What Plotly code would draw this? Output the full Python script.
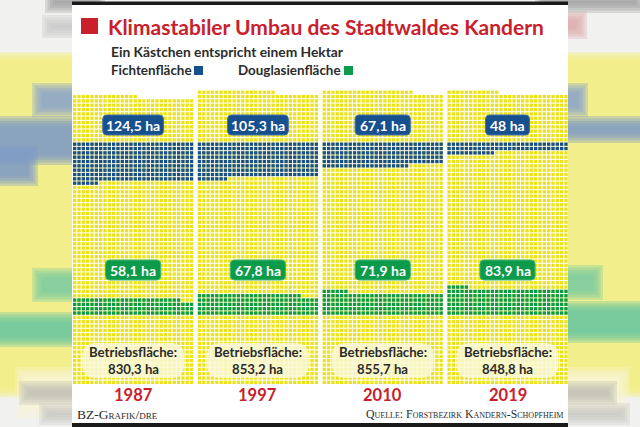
import plotly.graph_objects as go

# ---------------- data ----------------
years = ["1987", "1997", "2010", "2019"]
fichte_ha = [124.5, 105.3, 67.1, 48.0]
douglasie_ha = [58.1, 67.8, 71.9, 83.9]
betrieb_ha = [830.3, 853.2, 855.7, 848.8]
# number of squares drawn in each panel (as counted in the graphic)
total_cells = [1863, 1894, 1897, 1888]
fichte_cells = [258, 231, 160, 67]
douglasie_cells = [109, 136, 146, 173]

title = "Klimastabiler Umbau des Stadtwaldes Kandern"
subtitle = "Ein Kästchen entspricht einem Hektar"
legend_f = "Fichtenfläche"
legend_d = "Douglasienfläche"
credit = "BZ-Grafik/dre"
source = "Quelle: Forstbezirk Kandern-Schopfheim"

# ---------------- style / layout ----------------
W, H = 640, 427
COLS = 28
P = 4.33            # cell pitch (px)
S = 3.3             # square size
X0 = 72.5
STRIDE = 124.8
Y0 = 384.5          # grid bottom
BLUE_TOP_ROW = 55
GREEN_BOTTOM_ROW = 16

YELLOW = "#ECE21C"
BLUE = "#17508F"
GREEN = "#0C9B4A"
RED = "#C9202B"
TXT = "#2b2b2b"
FONT = "Lato, Roboto, sans-serif"
SERIF = "Liberation Serif, DejaVu Serif, serif"


def fmt(v):
    if float(v).is_integer():
        return f"{int(v)} ha"
    return f"{v:.1f}".replace(".", ",") + " ha"


def cxy(panel, row, col):
    return X0 + panel * STRIDE + (col + 0.5) * P, Y0 - (row + 0.5) * P


def rrect(x0, y0, x1, y1, r):
    return (f"M{x0+r},{y0} L{x1-r},{y0} Q{x1},{y0} {x1},{y0+r} L{x1},{y1-r} "
            f"Q{x1},{y1} {x1-r},{y1} L{x0+r},{y1} Q{x0},{y1} {x0},{y1-r} "
            f"L{x0},{y0+r} Q{x0},{y0} {x0+r},{y0} Z")


yx, yy, bx, by, gx, gy = [], [], [], [], [], []
for p in range(len(years)):
    for k in range(total_cells[p]):
        x, y = cxy(p, k // COLS, k % COLS)
        yx.append(x); yy.append(y)
    for j in range(fichte_cells[p]):
        x, y = cxy(p, BLUE_TOP_ROW - j // COLS, j % COLS)
        bx.append(x); by.append(y)
    for j in range(douglasie_cells[p]):
        x, y = cxy(p, GREEN_BOTTOM_ROW + j // COLS, j % COLS)
        gx.append(x); gy.append(y)

fig = go.Figure()
for xs, ys, col in [(yx, yy, YELLOW), (bx, by, BLUE), (gx, gy, GREEN)]:
    fig.add_trace(go.Scatter(x=xs, y=ys, mode="markers", hoverinfo="skip",
                             marker=dict(symbol="square", size=S, color=col,
                                         line=dict(width=0))))

shapes = []


def rect(x0, y0, x1, y1, col, layer="below", opacity=1.0):
    shapes.append(dict(type="rect", xref="x", yref="y", x0=x0, y0=y0, x1=x1, y1=y1,
                       fillcolor=col, line=dict(width=0), layer=layer, opacity=opacity))


def blob(x0, y0, x1, y1, col, n=5, step=2.5, op=0.35):
    # soft-edged rectangle (imitates the blurred backdrop)
    for i in range(n):
        d = (i - (n - 1) / 2) * step
        rect(x0 - d, y0 - d, x1 + d, y1 + d, col, opacity=op)


# blurred backdrop at the sides
rect(0, 0, W, H, "#F1F1EF")
blob(-20, 57, 660, 392, "#F3ED88", op=0.45)
# left strip
blob(-20, 121, 90, 160, "#7E9CC7")
blob(-20, 150, 33, 181, "#7E9CC7")
blob(37, 88, 100, 112, "#8AA4CB")
blob(-20, 317, 90, 342, "#69C6A0")
blob(37, 273, 100, 297, "#7BCBA0")
blob(20, 372, 100, 414, "#F7F5D8", op=0.3)
blob(24, 386, 100, 400, "#BDBDB3", op=0.3)
blob(44, 408, 100, 420, "#C6C6C2", op=0.3)
blob(47, 20, 100, 33, "#C8C8C8", op=0.3)
blob(50, -4, 100, 8, "#9A9A9A", op=0.3)
# right strip
blob(540, 121, 660, 138, "#7E9CC7")
blob(540, 88, 583, 112, "#8AA4CB")
blob(540, 270, 598, 295, "#7BCBA0")
blob(540, 306, 660, 338, "#69C6A0")
blob(540, 372, 625, 414, "#F7F5D8", op=0.3)
blob(540, 386, 612, 400, "#BDBDB3", op=0.3)
blob(540, 408, 625, 420, "#C6C6C2", op=0.3)
blob(540, 16, 582, 34, "#D9A8A8", op=0.3)
blob(540, -4, 640, 8, "#9A9A9A", op=0.3)
# white card
rect(72, 5, 568, 423, "white")
# top / bottom rules
rect(72, 1.5, 568, 5, "#1a1a1a")
rect(72, 423, 568, 427, "#1a1a1a")
# title square
rect(81, 18, 98, 34, RED)

ann = []
ann.append(dict(x=106, y=26, text=f"<b>{title}</b>", xanchor="left", yanchor="middle",
                font=dict(family=FONT, size=21, color=RED)))
ann.append(dict(x=109, y=51, text=f"<b>{subtitle}</b>", xanchor="left", yanchor="middle",
                font=dict(family=FONT, size=13.8, color=TXT)))
ann.append(dict(x=109, y=70, text=f"<b>{legend_f}</b>", xanchor="left", yanchor="middle",
                font=dict(family=FONT, size=13.4, color=TXT)))
ann.append(dict(x=236, y=70, text=f"<b>{legend_d}</b>", xanchor="left", yanchor="middle",
                font=dict(family=FONT, size=13.4, color=TXT)))
rect(194, 66, 203, 75, BLUE, "above")
rect(344, 66, 353, 75, GREEN, "above")

for p in range(len(years)):
    cx = X0 + p * STRIDE + COLS * P / 2
    # Fichte label
    t = fmt(fichte_ha[p])
    w = len(t) * 5.6 + 16
    shapes.append(dict(type="path", xref="x", yref="y",
                       path=rrect(cx - w / 2, 115, cx + w / 2, 135, 4),
                       fillcolor=BLUE, line=dict(color="#4471AA", width=1), layer="above"))
    ann.append(dict(x=cx, y=125.5, text=f"<b>{t}</b>", xanchor="center", yanchor="middle",
                    font=dict(family=FONT, size=14, color="white")))
    # Douglasie label
    t = fmt(douglasie_ha[p])
    w = len(t) * 5.6 + 16
    shapes.append(dict(type="path", xref="x", yref="y",
                       path=rrect(cx - w / 2, 260, cx + w / 2, 280, 4),
                       fillcolor=GREEN, line=dict(color="#45B574", width=1), layer="above"))
    ann.append(dict(x=cx, y=270.5, text=f"<b>{t}</b>", xanchor="center", yanchor="middle",
                    font=dict(family=FONT, size=14, color="white")))
    # Betriebsfläche pill
    shapes.append(dict(type="path", xref="x", yref="y",
                       path=rrect(cx - 51, 343, cx + 51, 378, 14),
                       fillcolor="rgba(250,248,215,0.85)", line=dict(width=0), layer="above"))
    ann.append(dict(x=cx, y=352, text="<b>Betriebsfläche:</b>", xanchor="center", yanchor="middle",
                    font=dict(family=FONT, size=13.2, color=TXT)))
    ann.append(dict(x=cx, y=368.5, text=f"<b>{fmt(betrieb_ha[p])}</b>", xanchor="center",
                    yanchor="middle", font=dict(family=FONT, size=13.2, color=TXT)))
    ann.append(dict(x=cx, y=395, text=f"<b>{years[p]}</b>", xanchor="center", yanchor="middle",
                    font=dict(family=FONT, size=16.5, color=RED)))

ann.append(dict(x=75, y=414, text=credit, xanchor="left", yanchor="middle",
                font=dict(family=SERIF, size=13.5, color=TXT, variant="small-caps")))
ann.append(dict(x=566, y=414, text=source, xanchor="right", yanchor="middle",
                font=dict(family=SERIF, size=11.8, color=TXT, variant="small-caps")))
for a in ann:
    a.update(xref="x", yref="y", showarrow=False)

fig.update_layout(
    width=W, height=H, margin=dict(l=0, r=0, t=0, b=0),
    paper_bgcolor="white", plot_bgcolor="white", showlegend=False,
    xaxis=dict(range=[0, W], visible=False, fixedrange=True),
    yaxis=dict(range=[H, 0], visible=False, fixedrange=True),
    shapes=shapes, annotations=ann,
)
fig.write_html("out.html")
